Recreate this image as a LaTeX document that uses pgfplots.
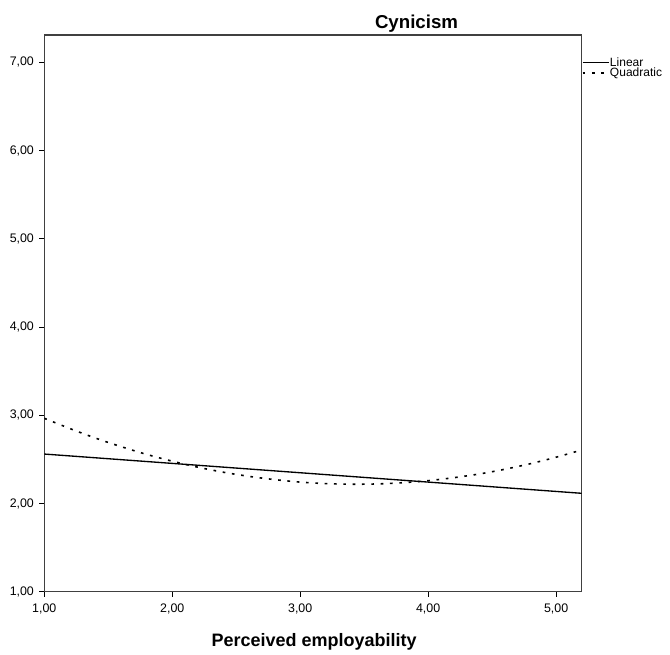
\documentclass[border=0pt]{standalone}
\usepackage{pgfplots}
\pgfplotsset{compat=1.18}
\usepackage{fontspec}
\setmainfont{Liberation Sans}
\begin{document}
\begin{tikzpicture}
\begin{axis}[
  name=main,
  scale only axis,
  width=403pt, height=417.5pt,
  xmin=1, xmax=5.2, ymin=1, ymax=7.31,
  xtick={1,2,3,4,5}, ytick={1,2,3,4,5,6,7},
  xtick pos=bottom, ytick pos=left,
  tick align=outside, major tick length=3.75pt,
  tick style={black, line width=0.8pt},
  axis line style={black!75, line width=0.8pt},
  /pgf/number format/.cd, fixed, fixed zerofill, precision=2, use comma, assume math mode=true,
  /pgfplots/.cd,
  ticklabel style={font=\fontsize{9.3}{10}\selectfont},
  xticklabel style={yshift=-1.5pt},
  yticklabel style={xshift=-0.5pt},
  title={\textbf{Cynicism}},
  title style={font=\fontsize{14}{16}\selectfont, at={(rel axis cs:0.6926,1)}, anchor=base, yshift=-1.5pt},
  xlabel={\textbf{Perceived employability}},
  xlabel style={font=\fontsize{13.5}{15}\selectfont, at={(rel axis cs:0.502,0)}, anchor=base, yshift=-40.7pt},
  legend style={at={(rel axis cs:1,0.959)}, anchor=north west, draw=none, fill=none,
    font=\fontsize{9}{10}\selectfont, inner sep=0pt, outer sep=0pt, row sep=0pt,
    nodes={inner sep=0pt, text height=6.5pt, text depth=1pt}},
  legend cell align=left,
  legend image code/.code={\draw[#1] (1pt,0pt) -- (21pt,0pt);},
]
\addplot[black, line width=1pt, no marks] coordinates {
  (1.0,2.561) (5.2,2.116)
};
\addlegendentry{Linear}
\addplot[black, line width=1.2pt, no marks, dash pattern=on 2pt off 5pt, smooth] coordinates {
  (1.0,2.966) (1.2,2.850) (1.4,2.742) (1.6,2.645) (1.8,2.557) (2.0,2.480)
  (2.2,2.412) (2.4,2.355) (2.6,2.308) (2.8,2.271) (3.0,2.243) (3.2,2.226)
  (3.4,2.219) (3.6,2.222) (3.8,2.236) (4.0,2.259) (4.2,2.293) (4.4,2.335)
  (4.6,2.389) (4.8,2.452) (5.0,2.525) (5.2,2.607)
};
\addlegendentry{Quadratic}
\end{axis}
\path ([xshift=-33.2pt,yshift=-46.7pt]main.south west) rectangle ([xshift=66.2pt,yshift=26.25pt]main.north east);
\end{tikzpicture}
\end{document}
